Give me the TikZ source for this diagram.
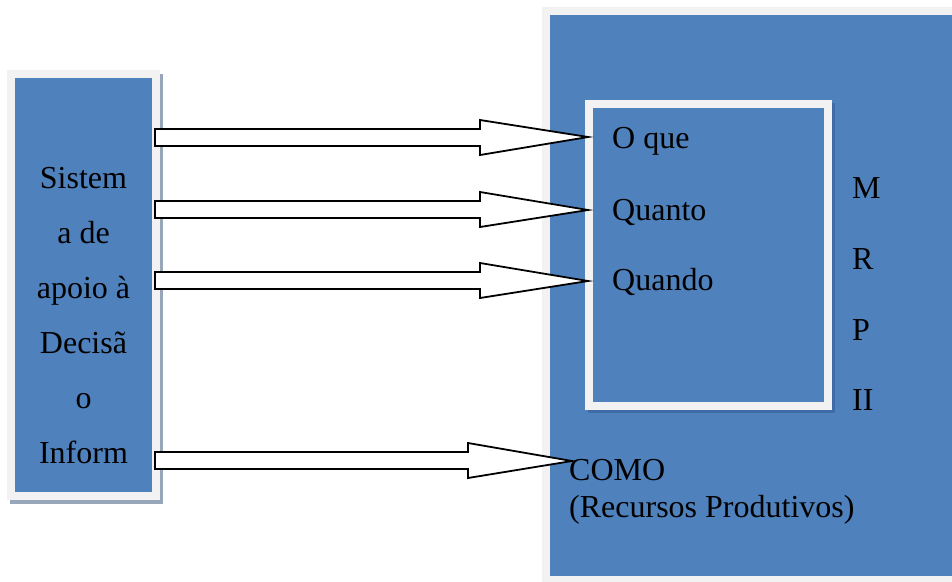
\documentclass[tikz,border=0pt]{standalone}
\usepackage{fontspec}
\setmainfont{Liberation Serif}
\usetikzlibrary{calc,shadows}
\definecolor{panelblue}{HTML}{4F81BD}
\definecolor{panelrim}{HTML}{F2F2F2}
\definecolor{greyshadow}{HTML}{98A6BA}
\definecolor{darkshadow}{HTML}{3F6CA6}
\tikzset{
  panel/.style={rectangle, fill=panelblue, draw=panelrim, line width=8pt,
    inner sep=0pt, outer sep=0pt},
  label/.style={inner sep=0pt, font=\fontsize{32}{38}\selectfont},
  blockarrow/.style={draw=black, fill=white, line width=1.8pt, line join=miter},
}
% block arrow from coordinate #1 to tip #2, head length #3
\newcommand\blockarrowto[3]{%
  \draw[blockarrow] let \p1=(#1), \p2=(#2) in
    (\x1,\y1+8.5pt) -- (\x2-#3,\y1+8.5pt) -- (\x2-#3,\y1+17.5pt) -- (\x2,\y2)
    -- (\x2-#3,\y1-17.5pt) -- (\x2-#3,\y1-8.5pt) -- (\x1,\y1-8.5pt) -- cycle;}
\begin{document}
\begin{tikzpicture}[x=1pt,y=-1pt]
\useasboundingbox (0,0) rectangle (952,581);
\begin{scope}
\clip (0,0) rectangle (952,581);

% outer MRP II panel, running off the right edge
\node[panel, minimum width=414pt, minimum height=569pt] (mrp) at (753,295.5) {};

% inner panel holding the questions
\node[panel, minimum width=239pt, minimum height=302pt,
  drop shadow={shadow xshift=3pt, shadow yshift=-3pt, fill=darkshadow,
    draw=darkshadow, line width=8pt, opacity=1}]
  (what) at (708.5,255) {};

% decision support panel
\node[panel, minimum width=145pt, minimum height=422pt,
  drop shadow={shadow xshift=3pt, shadow yshift=-4pt, fill=greyshadow,
    draw=greyshadow, line width=8pt, opacity=1}]
  (dss) at (83.5,285) {};
\end{scope}

% text of the decision support panel
\foreach \t [count=\i from 0] in {Sistem, a de, apoio à, Decisã, o, Inform}
  \node[label, anchor=base] (dss\i) at (83.5,188+55*\i) {\t};

% questions
\node[label, anchor=base west] (oque) at (612,148) {O que};
\node[label, anchor=base west] (quanto) at (612,220) {Quanto};
\node[label, anchor=base west] (quando) at (612,290) {Quando};

% vertical MRP II caption
\node[label, anchor=base west] (mM) at (852,198) {M};
\node[label, anchor=base west] (mR) at (852,269) {R};
\node[label, anchor=base west] (mP) at (852,340) {P};
\node[label, anchor=base west] (mII) at (852,410) {II};

% how
\node[label, anchor=base west] (como) at (569,480) {COMO};
\node[label, anchor=base west] (recursos) at (569,517) {(Recursos Produtivos)};

% arrow end points
\coordinate (a1) at (155,137.5);  \coordinate (t1) at (588,137);
\coordinate (a2) at (155,209.5);  \coordinate (t2) at (588,210);
\coordinate (a3) at (155,280.5);  \coordinate (t3) at (588,281);
\coordinate (a4) at (155,460.5);  \coordinate (t4) at (572,461);

\blockarrowto{a1}{t1}{108pt}
\blockarrowto{a2}{t2}{108pt}
\blockarrowto{a3}{t3}{108pt}
\blockarrowto{a4}{t4}{104pt}
\end{tikzpicture}
\end{document}
